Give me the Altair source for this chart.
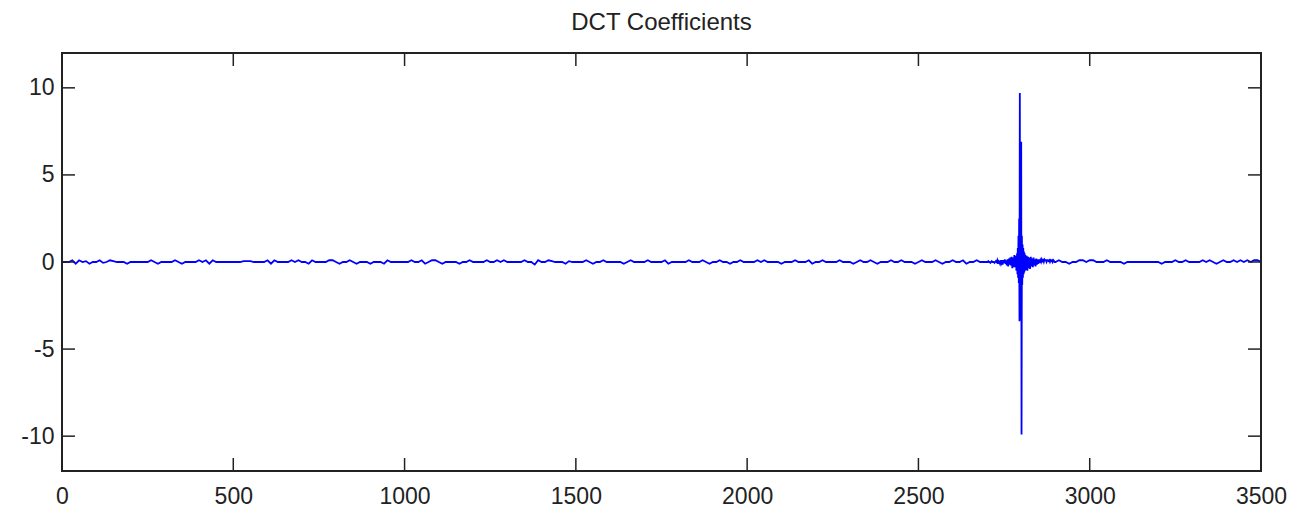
import altair as alt
import pandas as pd

# ---- data ----
x_main = list(range(0, 2700, 10))
y_main = [
    0.0, 0.0, 0.0, 0.1, -0.1, 0.1, 0.0, 0.05, -0.1, 0.0,
    0.0, 0.1, -0.05, 0.0, 0.1, 0.05, 0.0, 0.0, 0.0, -0.1,
    0.0, 0.0, 0.0, 0.0, 0.0, 0.0, 0.1, 0.0, -0.1, 0.0,
    0.0, 0.0, 0.0, 0.1, 0.0, -0.1, 0.0, 0.0, 0.0, 0.0,
    0.1, 0.0, 0.1, -0.1, 0.1, 0.0, 0.0, 0.0, 0.0, 0.0,
    0.0, 0.0, 0.0, 0.05, 0.05, 0.05, 0.0, 0.0, 0.0, 0.0,
    0.1, -0.1, 0.1, 0.0, 0.0, 0.0, 0.0, 0.1, 0.0, 0.1,
    0.0, 0.0, -0.1, 0.1, 0.0, 0.0, 0.0, 0.0, 0.1, 0.1,
    0.0, -0.1, 0.0, 0.0, 0.1, 0.0, -0.1, 0.0, 0.0, 0.0,
    -0.1, 0.0, 0.0, 0.0, -0.1, 0.1, 0.0, 0.0, 0.0, 0.0,
    0.0, 0.0, 0.1, 0.0, 0.0, 0.1, -0.1, 0.0, 0.1, 0.1,
    0.0, -0.1, 0.0, 0.0, 0.0, 0.0, -0.1, 0.0, 0.0, 0.1,
    0.0, 0.0, 0.0, 0.0, 0.1, 0.0, 0.0, 0.1, 0.0, 0.1,
    0.0, 0.0, 0.0, 0.0, 0.0, 0.1, 0.0, 0.0, -0.15, 0.1,
    0.0, 0.0, 0.1, 0.05, 0.0, 0.0, 0.0, -0.1, 0.05, 0.0,
    0.0, 0.0, 0.0, 0.1, 0.0, -0.1, 0.0, 0.0, 0.1, 0.0,
    0.0, 0.0, 0.0, 0.0, -0.1, 0.0, 0.1, 0.0, 0.0, 0.0,
    0.0, 0.1, 0.0, 0.0, 0.0, 0.0, 0.1, -0.1, 0.0, 0.0,
    0.0, 0.0, 0.0, 0.1, 0.0, 0.0, 0.0, 0.1, 0.0, -0.1,
    0.0, 0.0, 0.1, 0.0, 0.0, -0.1, 0.0, 0.0, 0.1, 0.0,
    0.0, 0.0, 0.0, 0.1, 0.0, 0.1, 0.0, 0.0, 0.0, 0.0,
    -0.1, 0.0, 0.0, 0.0, 0.1, 0.0, 0.0, 0.0, 0.1, -0.1,
    0.0, 0.0, 0.1, 0.0, 0.0, 0.0, 0.0, 0.1, 0.0, 0.0,
    0.0, -0.1, 0.0, 0.1, 0.0, 0.0, 0.1, 0.0, -0.1, 0.0,
    0.0, 0.0, 0.1, 0.0, 0.0, 0.1, 0.0, 0.0, 0.0, -0.1,
    0.0, 0.1, 0.0, 0.0, 0.0, 0.1, 0.0, -0.1, 0.0, 0.0,
    0.1, 0.0, 0.0, 0.1, -0.1, 0.0, 0.0, 0.1, 0.0, 0.0,
]

x_pre = list(range(2700, 2788, 2))
y_pre = [
    0.0, 0.0, 0.05, 0.0, 0.0, -0.05, 0.0, 0.05, 0.0, 0.0,
    0.0, -0.05, 0.0, 0.05, 0.0, 0.1, -0.1, 0.05, 0.0, -0.1,
    0.1, -0.05, 0.1, -0.15, 0.1, -0.05, 0.15, -0.1, 0.1, -0.2,
    0.15, -0.25, 0.2, -0.15, 0.25, -0.2, 0.3, -0.35, 0.25, -0.3,
    0.4, -0.3, 0.35, -0.5,
]

x_core = list(range(2788, 2812))
y_core = [
    0.5, -0.7, 0.8, -0.9, 1.5, -1.2, 2.5, -3.4, 9.7, -3.3,
    2.2, -2.0, 6.9, -9.9, 1.5, -1.3, 1.0, -0.9, 0.8, -0.7,
    0.6, -0.6, 0.5, -0.5,
]

x_post = list(range(2812, 2900, 2))
y_post = [
    0.4, -0.45, 0.35, -0.5, 0.3, -0.35, 0.25, -0.4, 0.3, -0.25,
    0.2, -0.3, 0.25, -0.2, 0.15, -0.25, 0.2, -0.15, 0.15, -0.1,
    0.15, -0.05, 0.1, 0.0, 0.15, 0.05, 0.1, 0.0, 0.15, 0.1,
    0.1, 0.0, 0.1, 0.1, 0.05, 0.1, 0.0, 0.1, 0.05, 0.1,
    0.0, 0.1, 0.05, 0.0,
]

x_tail = list(range(2900, 3501, 10))
y_tail = [
    0.0, 0.1, 0.0, 0.0, -0.1, 0.0, 0.0, 0.1, 0.1, 0.0,
    0.1, 0.1, 0.0, 0.0, 0.0, 0.1, 0.0, 0.0, 0.0, 0.0,
    -0.1, 0.0, 0.0, 0.0, 0.0, 0.0, 0.0, 0.0, 0.0, 0.0,
    0.0, -0.1, 0.0, 0.0, 0.0, 0.1, 0.0, 0.0, 0.1, 0.0,
    0.0, 0.0, 0.0, 0.1, 0.0, 0.1, 0.0, -0.1, 0.0, 0.1,
    0.0, 0.0, 0.1, 0.0, 0.1, 0.0, 0.1, 0.0, 0.1, 0.1,
    0.0,
]

x_ticks = [0, 500, 1000, 1500, 2000, 2500, 3000, 3500]
y_ticks = [-10, -5, 0, 5, 10]

W, H = 1199, 418
TICK = 13
FONT = "Liberation Sans"
INK = "#222222"

df = pd.DataFrame({
    "n": x_main + x_pre + x_core + x_post + x_tail,
    "v": y_main + y_pre + y_core + y_post + y_tail,
})
dfx = pd.DataFrame({"n": x_ticks})
dfy = pd.DataFrame({"v": y_ticks})

xs = alt.Scale(domain=[0, 3500], nice=False, zero=False)
ys = alt.Scale(domain=[-12, 12], nice=False, zero=False)
xa = alt.Axis(values=x_ticks, title=None, ticks=False, domain=False, grid=False,
              labelFont=FONT, labelFontSize=23, labelColor=INK, labelPadding=14,
              labelFlush=False, labelExpr="'' + datum.value")
ya = alt.Axis(values=y_ticks, title=None, ticks=False, domain=False, grid=False,
              labelFont=FONT, labelFontSize=23, labelColor=INK, labelPadding=8,
              labelExpr="'' + datum.value")

line = alt.Chart(df).mark_line(color="#0000ff", strokeWidth=1.8, clip=True).encode(
    x=alt.X("n:Q", scale=xs, axis=xa),
    y=alt.Y("v:Q", scale=ys, axis=ya),
    order="n:Q",
)

xt_bottom = alt.Chart(dfx).mark_rule(color=INK, strokeWidth=1.5).encode(
    x=alt.X("n:Q", scale=xs, axis=xa), y=alt.value(H), y2=alt.value(H - TICK))
xt_top = alt.Chart(dfx).mark_rule(color=INK, strokeWidth=1.5).encode(
    x=alt.X("n:Q", scale=xs, axis=xa), y=alt.value(0), y2=alt.value(TICK))
yt_left = alt.Chart(dfy).mark_rule(color=INK, strokeWidth=1.5).encode(
    y=alt.Y("v:Q", scale=ys, axis=ya), x=alt.value(0), x2=alt.value(TICK))
yt_right = alt.Chart(dfy).mark_rule(color=INK, strokeWidth=1.5).encode(
    y=alt.Y("v:Q", scale=ys, axis=ya), x=alt.value(W), x2=alt.value(W - TICK))

chart = alt.layer(line, xt_bottom, xt_top, yt_left, yt_right).properties(
    width=W, height=H,
    title=alt.TitleParams("DCT Coefficients", font=FONT, fontSize=24, fontWeight="normal",
                          color=INK, anchor="middle", offset=17),
    autosize=alt.AutoSizeParams(type="none"),
    padding={"left": 62, "top": 53, "right": 33, "bottom": 40},
    background="white",
).configure_view(stroke=INK, strokeWidth=2)

chart.save("out.html", embed_options={"renderer": "svg", "actions": False})
